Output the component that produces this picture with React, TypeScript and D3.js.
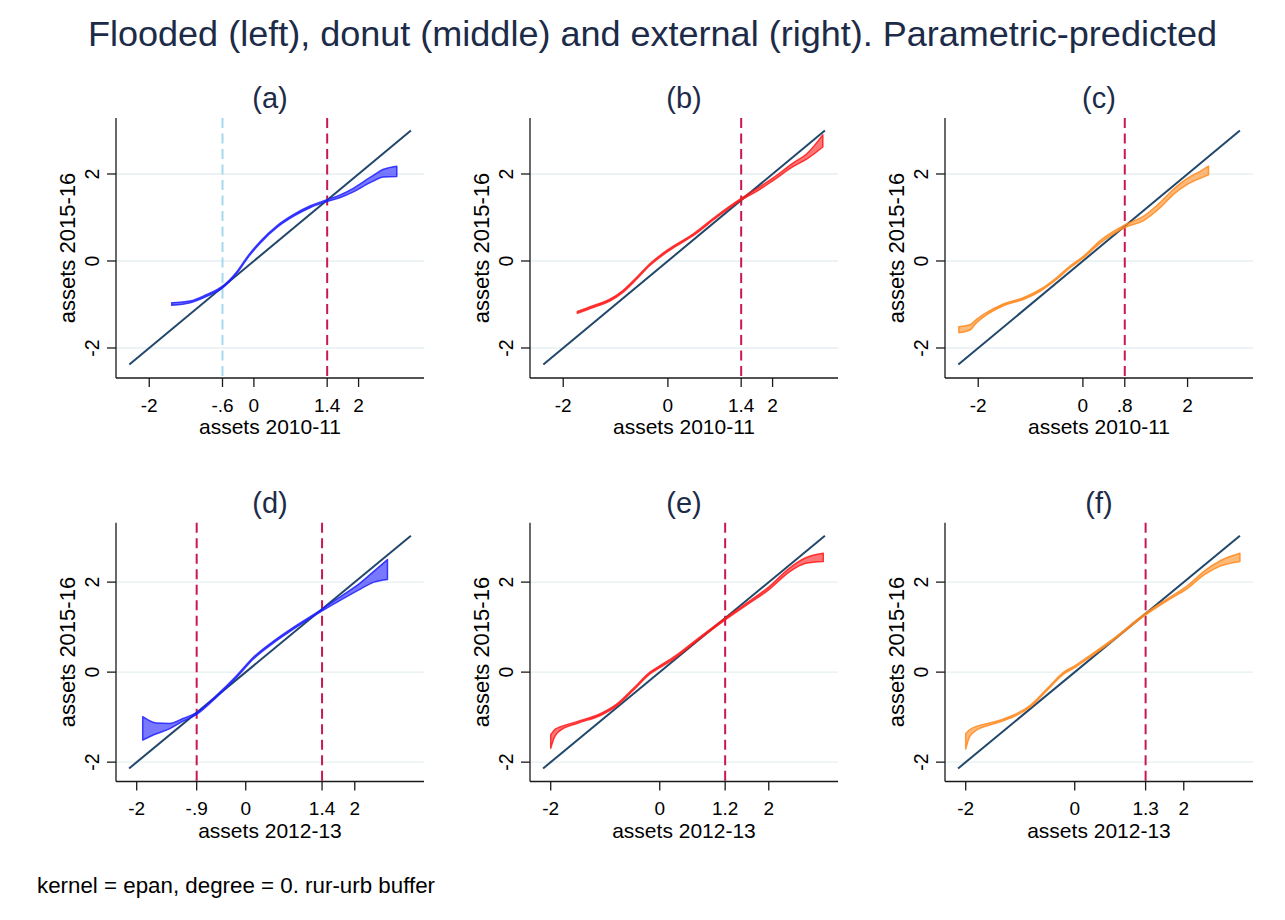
import React from "react";
import * as d3 from "d3";

// ---------- data ----------
const titleText = "Flooded (left), donut (middle) and external (right). Parametric-predicted";
const footerText = "kernel = epan, degree = 0. rur-urb buffer";
const panelLabels = ["(a)", "(b)", "(c)", "(d)", "(e)", "(f)"];
const xAxisTitles = ["assets 2010-11", "assets 2012-13"];
const yAxisTitle = "assets 2015-16";
const yTicks = [-2, 0, 2];
const yTickLabels = ["-2", "0", "2"];

const xTicksA = [-2, -0.6, 0, 1.4, 2];
const xTickLabelsA = ["-2", "-.6", "0", "1.4", "2"];
const xTicksB = [-2, 0, 1.4, 2];
const xTickLabelsB = ["-2", "0", "1.4", "2"];
const xTicksC = [-2, 0, 0.8, 2];
const xTickLabelsC = ["-2", "0", ".8", "2"];
const xTicksD = [-2, -0.9, 0, 1.4, 2];
const xTickLabelsD = ["-2", "-.9", "0", "1.4", "2"];
const xTicksE = [-2, 0, 1.2, 2];
const xTickLabelsE = ["-2", "0", "1.2", "2"];
const xTicksF = [-2, 0, 1.3, 2];
const xTickLabelsF = ["-2", "0", "1.3", "2"];

const cutoffsA = [-0.6, 1.4];
const cutoffsB = [1.4];
const cutoffsC = [0.8];
const cutoffsD = [-0.9, 1.4];
const cutoffsE = [1.2];
const cutoffsF = [1.3];

const diagTop = [-2.38, 3.0];
const diagBottom = [-2.14, 3.03];

// predicted band (x, lower, upper)
const xA = [-1.57, -1.22, -0.9, -0.6, -0.33, -0.1, 0.12, 0.44, 0.76, 1.08, 1.4, 1.65, 1.9, 2.22, 2.48, 2.73];
const loA = [-1.02, -0.96, -0.81, -0.62, -0.29, 0.1, 0.41, 0.77, 1.03, 1.23, 1.37, 1.46, 1.59, 1.8, 1.93, 1.94];
const hiA = [-0.96, -0.92, -0.77, -0.58, -0.25, 0.14, 0.45, 0.81, 1.07, 1.27, 1.41, 1.52, 1.67, 1.92, 2.11, 2.18];

const xB = [-1.73, -1.43, -1.11, -0.86, -0.6, -0.35, 0, 0.48, 0.93, 1.4, 1.75, 2.01, 2.39, 2.65, 2.96];
const loB = [-1.2, -1.07, -0.92, -0.72, -0.42, -0.11, 0.22, 0.58, 1.0, 1.4, 1.64, 1.85, 2.17, 2.34, 2.62];
const hiB = [-1.16, -1.03, -0.88, -0.68, -0.38, -0.07, 0.26, 0.62, 1.04, 1.44, 1.7, 1.91, 2.25, 2.46, 2.9];

const xC = [-2.37, -2.15, -2.05, -1.9, -1.52, -1.13, -0.81, -0.5, -0.24, 0.02, 0.33, 0.8, 1.16, 1.48, 1.73, 1.98, 2.24, 2.4];
const loC = [-1.65, -1.58, -1.44, -1.29, -1.03, -0.88, -0.69, -0.42, -0.15, 0.08, 0.41, 0.77, 0.93, 1.23, 1.53, 1.75, 1.9, 1.98];
const hiC = [-1.51, -1.46, -1.36, -1.23, -0.99, -0.84, -0.65, -0.38, -0.11, 0.12, 0.47, 0.83, 1.03, 1.35, 1.65, 1.89, 2.06, 2.18];

const xD = [-1.89, -1.64, -1.4, -1.15, -0.9, -0.54, -0.17, 0.14, 0.51, 0.88, 1.4, 1.74, 2.11, 2.35, 2.6];
const loD = [-1.51, -1.37, -1.26, -1.09, -0.94, -0.56, -0.12, 0.29, 0.65, 0.96, 1.36, 1.6, 1.85, 2.0, 2.06];
const hiD = [-0.99, -1.13, -1.14, -1.03, -0.9, -0.52, -0.08, 0.33, 0.69, 1.0, 1.4, 1.68, 1.99, 2.24, 2.5];

const xE = [-2.0, -1.93, -1.83, -1.52, -1.1, -0.79, -0.49, -0.18, 0, 0.3, 0.61, 1.2, 1.58, 2.01, 2.38, 2.68, 3.0];
const loE = [-1.69, -1.44, -1.3, -1.14, -0.97, -0.75, -0.41, -0.04, 0.1, 0.33, 0.62, 1.16, 1.48, 1.84, 2.23, 2.42, 2.46];
const hiE = [-1.39, -1.28, -1.22, -1.1, -0.93, -0.71, -0.37, 0.0, 0.14, 0.37, 0.66, 1.2, 1.52, 1.9, 2.31, 2.54, 2.64];

const xF = [-2.0, -1.93, -1.79, -1.49, -1.12, -0.81, -0.51, -0.2, 0, 0.29, 0.66, 1.3, 1.7, 2.07, 2.37, 2.68, 3.03];
const loF = [-1.71, -1.44, -1.28, -1.15, -0.99, -0.77, -0.41, -0.04, 0.1, 0.34, 0.66, 1.27, 1.59, 1.86, 2.16, 2.36, 2.46];
const hiF = [-1.37, -1.28, -1.2, -1.11, -0.95, -0.73, -0.37, 0.0, 0.14, 0.38, 0.7, 1.31, 1.63, 1.92, 2.24, 2.48, 2.64];

// ---------- layout / style ----------
const W = 1285;
const H = 920;
const FONT = "'Liberation Sans', Arial, Helvetica, sans-serif";
const NAVY = "#1c2b48";
const colLeft = [116, 530, 945];
const plotW = 308;
const rowTop = [118, 522.7];
const rowBottom = [378, 781.5];
const xDomains = [[-2.635, 3.25], [-2.38, 3.27]];
const yDomains = [[-2.69, 3.287], [-2.43, 3.32]];
const BLUE = "#2020ff";
const RED = "#ff1a1a";
const ORANGE = "#ff8a1e";
const CRIMSON = "#c8194f";
const LIGHTBLUE = "#a6d9ec";
const DIAG = "#22476a";
const GRID = "#e6eff1";

type Panel = {
  label: string;
  row: number;
  col: number;
  xs: number[];
  lo: number[];
  hi: number[];
  ticks: number[];
  tickLabels: string[];
  cutoffs: number[];
  cutoffColors: string[];
  color: string;
};

const panels: Panel[] = [
  { label: panelLabels[0], row: 0, col: 0, xs: xA, lo: loA, hi: hiA, ticks: xTicksA, tickLabels: xTickLabelsA, cutoffs: cutoffsA, cutoffColors: [LIGHTBLUE, CRIMSON], color: BLUE },
  { label: panelLabels[1], row: 0, col: 1, xs: xB, lo: loB, hi: hiB, ticks: xTicksB, tickLabels: xTickLabelsB, cutoffs: cutoffsB, cutoffColors: [CRIMSON], color: RED },
  { label: panelLabels[2], row: 0, col: 2, xs: xC, lo: loC, hi: hiC, ticks: xTicksC, tickLabels: xTickLabelsC, cutoffs: cutoffsC, cutoffColors: [CRIMSON], color: ORANGE },
  { label: panelLabels[3], row: 1, col: 0, xs: xD, lo: loD, hi: hiD, ticks: xTicksD, tickLabels: xTickLabelsD, cutoffs: cutoffsD, cutoffColors: [CRIMSON, CRIMSON], color: BLUE },
  { label: panelLabels[4], row: 1, col: 1, xs: xE, lo: loE, hi: hiE, ticks: xTicksE, tickLabels: xTickLabelsE, cutoffs: cutoffsE, cutoffColors: [CRIMSON], color: RED },
  { label: panelLabels[5], row: 1, col: 2, xs: xF, lo: loF, hi: hiF, ticks: xTicksF, tickLabels: xTickLabelsF, cutoffs: cutoffsF, cutoffColors: [CRIMSON], color: ORANGE },
];

function PanelView({ p }: { p: Panel }) {
  const left = colLeft[p.col];
  const right = left + plotW;
  const top = rowTop[p.row];
  const bottom = rowBottom[p.row];
  const x = d3.scaleLinear().domain(xDomains[p.row]).range([left, right]);
  const y = d3.scaleLinear().domain(yDomains[p.row]).range([bottom, top]);
  const diag = p.row === 0 ? diagTop : diagBottom;
  const pts = p.xs.map((v, i) => ({ x: v, lo: p.lo[i], hi: p.hi[i] }));
  const area = d3
    .area<{ x: number; lo: number; hi: number }>()
    .x((d) => x(d.x))
    .y0((d) => y(d.lo))
    .y1((d) => y(d.hi))
    .curve(d3.curveMonotoneX);
  const cx = (left + right) / 2;
  const cy = (top + bottom) / 2;
  return (
    <g>
      {yTicks.map((t) => (
        <line key={"g" + t} x1={left} x2={right} y1={y(t)} y2={y(t)} stroke={GRID} strokeWidth={1.3} />
      ))}
      {p.cutoffs.map((c, i) => (
        <line
          key={"c" + i}
          x1={x(c)}
          x2={x(c)}
          y1={top}
          y2={bottom}
          stroke={p.cutoffColors[i]}
          strokeWidth={2}
          strokeDasharray="10,5.5"
        />
      ))}
      <line x1={x(diag[0])} y1={y(diag[0])} x2={x(diag[1])} y2={y(diag[1])} stroke={DIAG} strokeWidth={2} />
      <path d={area(pts) || ""} fill={p.color} fillOpacity={0.6} stroke={p.color} strokeOpacity={0.85} strokeWidth={1.5} strokeLinejoin="round" />
      {/* axes */}
      <line x1={left} x2={left} y1={top} y2={bottom} stroke="#1a1a1a" strokeWidth={1.3} />
      <line x1={left} x2={right} y1={bottom} y2={bottom} stroke="#1a1a1a" strokeWidth={1.3} />
      {yTicks.map((t, i) => (
        <g key={"yt" + t}>
          <line x1={left - 9} x2={left} y1={y(t)} y2={y(t)} stroke="#1a1a1a" strokeWidth={1.3} />
          <text
            transform={`translate(${left - 17.5},${y(t)}) rotate(-90)`}
            textAnchor="middle"
            fontSize={19.5}
            fontFamily={FONT}
            fill="#000"
          >
            {yTickLabels[i]}
          </text>
        </g>
      ))}
      {p.ticks.map((t, i) => (
        <g key={"xt" + i}>
          <line x1={x(t)} x2={x(t)} y1={bottom} y2={bottom + 9} stroke="#1a1a1a" strokeWidth={1.3} />
          <text x={x(t)} y={bottom + 33.5} textAnchor="middle" fontSize={19} fontFamily={FONT} fill="#000">
            {p.tickLabels[i]}
          </text>
        </g>
      ))}
      <text x={cx} y={bottom + 56} textAnchor="middle" fontSize={21} fontFamily={FONT} fill="#000">
        {xAxisTitles[p.row]}
      </text>
      <text
        transform={`translate(${left - 41},${cy}) rotate(-90)`}
        textAnchor="middle"
        fontSize={22}
        fontFamily={FONT}
        fill="#000"
      >
        {yAxisTitle}
      </text>
      <text x={cx} y={top - 10} textAnchor="middle" fontSize={29} fontFamily={FONT} fill={NAVY}>
        {p.label}
      </text>
    </g>
  );
}

export default function App() {
  return (
    <svg
      width={W}
      height={H}
      viewBox={`0 0 ${W} ${H}`}
      style={{ position: "absolute", left: 0, top: 0, background: "#fff" }}
    >
      <rect x={0} y={0} width={W} height={H} fill="#fff" />
      <text
        x={652.5}
        y={46}
        textAnchor="middle"
        fontSize={35}
        fontFamily={FONT}
        fill={NAVY}
        textLength={1129}
        lengthAdjust="spacingAndGlyphs"
      >
        {titleText}
      </text>
      {panels.map((p) => (
        <PanelView key={p.label} p={p} />
      ))}
      <text x={37} y={893} fontSize={22} fontFamily={FONT} fill="#000" textLength={398} lengthAdjust="spacingAndGlyphs">
        {footerText}
      </text>
    </svg>
  );
}
